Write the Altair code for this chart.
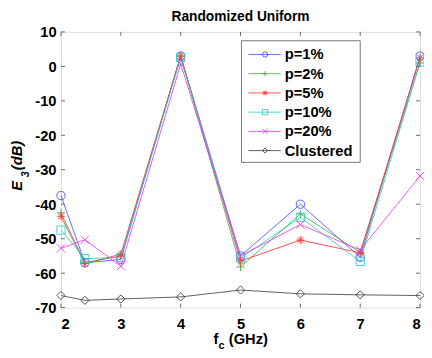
import altair as alt
import pandas as pd

freqs = [2, 2.4, 3, 4, 5, 6, 7, 8]
p1 = [-37.5, -57.0, -56.0, 3.0, -55.0, -40.0, -55.4, 3.0]
p2 = [-42.5, -57.0, -55.0, 3.0, -58.2, -42.8, -54.0, 1.0]
p5 = [-43.5, -57.2, -54.5, 3.0, -56.5, -50.4, -54.1, 2.5]
p10 = [-47.5, -55.8, -55.4, 2.5, -55.6, -43.8, -56.6, 1.3]
p20 = [-52.8, -50.3, -58.0, 0.7, -55.0, -45.9, -53.3, -31.8]
clustered = [-66.5, -67.9, -67.5, -66.9, -64.9, -66.0, -66.3, -66.5]

series_names = ["p=1%", "p=2%", "p=5%", "p=10%", "p=20%", "Clustered"]
series_vals = [p1, p2, p5, p10, p20, clustered]
colors = ["#5050ff", "#4aa84a", "#ff3030", "#30cccc", "#e040e0", "#404040"]

x_ticks = [2, 3, 4, 5, 6, 7, 8]
y_ticks = [-70, -60, -50, -40, -30, -20, -10, 0, 10]

W, H = 366, 281
FONT = "Liberation Sans"

rows = []
for name, vals in zip(series_names, series_vals):
    for f, v in zip(freqs, vals):
        rows.append({"series": name, "f": f, "E3": v})
df = pd.DataFrame(rows)

# marker shapes (unit paths)
circle = "circle"
plus = "M-1,0L1,0M0,-1L0,1"
star = "M-1,0L1,0M0,-1L0,1M-0.7,-0.7L0.7,0.7M-0.7,0.7L0.7,-0.7"
square = "square"
xmark = "M-1,-1L1,1M-1,1L1,-1"
diamond = "diamond"
shapes = [circle, plus, star, square, xmark, diamond]

color_scale = alt.Scale(domain=series_names, range=colors)
shape_scale = alt.Scale(domain=series_names, range=shapes)
xscale = alt.Scale(domain=[2, 8], nice=False, zero=False)
yscale = alt.Scale(domain=[-70, 10], nice=False, zero=False)

x_axis = alt.Axis(values=x_ticks, title=None, grid=False, ticks=False, domain=False,
                  labelFont=FONT, labelFontSize=15, labelFontWeight="bold",
                  labelColor="black", labelPadding=9, labelOverlap=False,
                  labelExpr="'' + datum.value")
y_axis = alt.Axis(values=y_ticks, title=None, grid=False, ticks=False, domain=False,
                  labelFont=FONT, labelFontSize=15, labelFontWeight="bold",
                  labelColor="black", labelPadding=5, labelOverlap=False,
                  labelExpr="'' + datum.value")

base = alt.Chart(df)

lines = base.mark_line(strokeWidth=1, opacity=0.85).encode(
    x=alt.X("f:Q", scale=xscale, axis=x_axis),
    y=alt.Y("E3:Q", scale=yscale, axis=y_axis),
    color=alt.Color("series:N", scale=color_scale, legend=None),
    detail="series:N",
    order=alt.Order("f:Q"),
)

points = base.mark_point(filled=False, strokeWidth=1, size=70, opacity=0.9).encode(
    x=alt.X("f:Q", scale=xscale, axis=x_axis),
    y=alt.Y("E3:Q", scale=yscale, axis=y_axis),
    color=alt.Color("series:N", scale=color_scale, legend=None),
    shape=alt.Shape("series:N", scale=shape_scale, legend=None),
)

# inward ticks
xt = pd.DataFrame({"v": x_ticks})
yt = pd.DataFrame({"v": y_ticks})
tick_col = "#666666"
xt_bot = alt.Chart(xt).mark_rule(color=tick_col, strokeWidth=1).encode(
    x=alt.X("v:Q", scale=xscale, axis=x_axis), y=alt.value(H), y2=alt.value(H - 4))
xt_top = alt.Chart(xt).mark_rule(color=tick_col, strokeWidth=1).encode(
    x=alt.X("v:Q", scale=xscale, axis=x_axis), y=alt.value(0), y2=alt.value(4))
yt_left = alt.Chart(yt).mark_rule(color=tick_col, strokeWidth=1).encode(
    y=alt.Y("v:Q", scale=yscale, axis=y_axis), x=alt.value(0), x2=alt.value(4))
yt_right = alt.Chart(yt).mark_rule(color=tick_col, strokeWidth=1).encode(
    y=alt.Y("v:Q", scale=yscale, axis=y_axis), x=alt.value(W), x2=alt.value(W - 4))

# legend
leg = pd.DataFrame({"series": series_names, "idx": list(range(len(series_names)))})
leg_base = alt.Chart(leg).transform_calculate(ypx="23 + datum.idx * 19.6")
leg_box = alt.Chart(pd.DataFrame({"a": [0]})).mark_rect(
    fill="white", stroke="#777777", strokeWidth=1).encode(
    x=alt.value(184), x2=alt.value(305), y=alt.value(9), y2=alt.value(133))
leg_lines = leg_base.mark_rule(strokeWidth=1, opacity=0.85).encode(
    x=alt.value(191), x2=alt.value(224),
    y=alt.Y("ypx:Q", scale=None),
    color=alt.Color("series:N", scale=color_scale, legend=None))
leg_pts = leg_base.mark_point(filled=False, strokeWidth=1, size=28, opacity=0.9).encode(
    x=alt.value(208),
    y=alt.Y("ypx:Q", scale=None),
    color=alt.Color("series:N", scale=color_scale, legend=None),
    shape=alt.Shape("series:N", scale=shape_scale, legend=None))
leg_text = leg_base.mark_text(align="left", baseline="middle", font=FONT, fontSize=15,
                              fontWeight="bold", color="black").encode(
    x=alt.value(228), y=alt.Y("ypx:Q", scale=None), text="series:N")


def label(txt, x, y, size=15, angle=0, italic=False):
    return alt.Chart(pd.DataFrame({"t": [txt]})).mark_text(
        font=FONT, fontSize=size, fontWeight="bold", fontStyle="italic" if italic else "normal",
        angle=angle, align="center", baseline="middle", color="black").encode(
        text="t:N", x=alt.value(x), y=alt.value(y))


xlab = [
    label("f", 158, 313),
    label("c", 163.5, 320, size=11),
    label("(GHz)", 191, 313),
]
ylab = [
    label("E", -45, 157, angle=270, italic=True),
    label("3", -36, 145, size=11, angle=270, italic=True),
    label("(dB)", -45, 126, angle=270, italic=True),
]

title = label("Randomized Uniform", W / 2, -15, size=14)

chart = alt.layer(
    lines, points, xt_bot, xt_top, yt_left, yt_right,
    leg_box, leg_lines, leg_pts, leg_text, *xlab, *ylab, title
).properties(
    width=W, height=H,
    autosize=alt.AutoSizeParams(type="none"),
    padding={"left": 54, "top": 21, "right": 4, "bottom": 48},
).configure_view(stroke="#555555", strokeWidth=1).configure(background="white")

chart.save("out.html", embed_options={"renderer": "svg", "actions": False})
